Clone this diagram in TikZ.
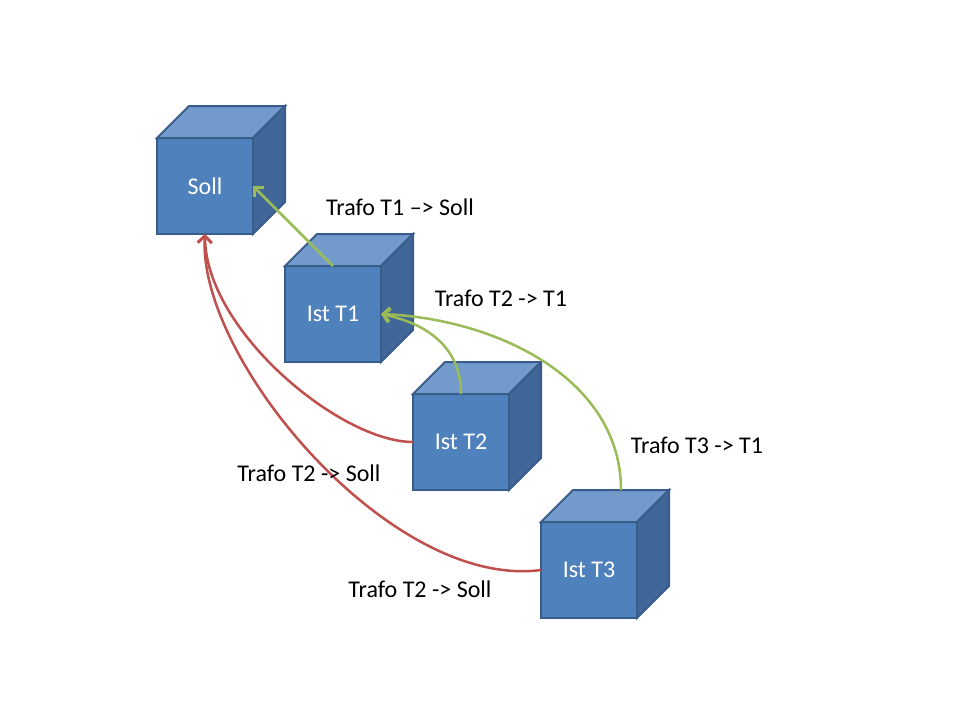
\documentclass[tikz,border=0pt]{standalone}
\usepackage{fontspec}
\setmainfont{Carlito}
\usetikzlibrary{arrows.meta}
\definecolor{cubefront}{RGB}{79,129,189}
\definecolor{cubetop}{RGB}{114,154,203}
\definecolor{cubeside}{RGB}{64,103,151}
\definecolor{cubeline}{RGB}{56,93,138}
\definecolor{trafogreen}{RGB}{155,187,89}
\definecolor{trafored}{RGB}{192,80,77}

\begin{document}
\begin{tikzpicture}[x=1pt,y=-1pt,
  cube/.style={draw=cubeline, fill=cubefront, line width=2pt, minimum size=96pt,
    inner sep=0pt, outer sep=0pt, text=white, font=\fontsize{24}{29}\selectfont},
  trafo/.style={line width=2.5pt, -{Straight Barb[length=7pt,width=14pt]}},
  lbl/.style={font=\fontsize{24}{29}\selectfont}]
  \fill[white] (0,0) rectangle (960,720);
  \node[cube] (soll) at (205,186) {Soll};
  \node[cube] (i1) at (333,314) {Ist T1};
  \node[cube] (i2) at (461,442) {Ist T2};
  \node[cube] (i3) at (589,570) {Ist T3};
  \foreach \c in {soll,i1,i2,i3} {
    \filldraw[cubeline, fill=cubetop, line width=2pt]
      (\c.north west) -- ++(32,-32) -- ++(96,0) -- (\c.north east) -- cycle;
    \filldraw[cubeline, fill=cubeside, line width=2pt]
      (\c.north east) -- ++(32,-32) -- ++(0,96) -- (\c.south east) -- cycle;
  }
  \coordinate (i3top) at ([shift={(32,-32)}]i3.north);
  % green arrows
  \draw[trafo, trafogreen] (i1.north) -- (soll.east);
  \draw[trafo, trafogreen] (i2.north) .. controls +(0,-49) and +(43,9) .. (i1.east);
  \draw[trafo, trafogreen] (i3top) .. controls +(0,-110) and +(118,5) .. (i1.east);
  % red arrows
  \draw[trafo, trafored] (i2.west) .. controls +(-73,0) and +(0,96) .. (soll.south);
  \draw[trafo, trafored] (i3.west) .. controls +(-150,20) and +(-8,125) .. (soll.south);
  \node[lbl] (l1) at (400,207) {Trafo T1 –> Soll};
  \node[lbl] (l2) at (501,298) {Trafo T2 -> T1};
  \node[lbl] (l3) at (697,445) {Trafo T3 -> T1};
  \node[lbl] (l4) at (309,473) {Trafo T2 -> Soll};
  \node[lbl] (l5) at (420,589) {Trafo T2 -> Soll};
\end{tikzpicture}
\end{document}
